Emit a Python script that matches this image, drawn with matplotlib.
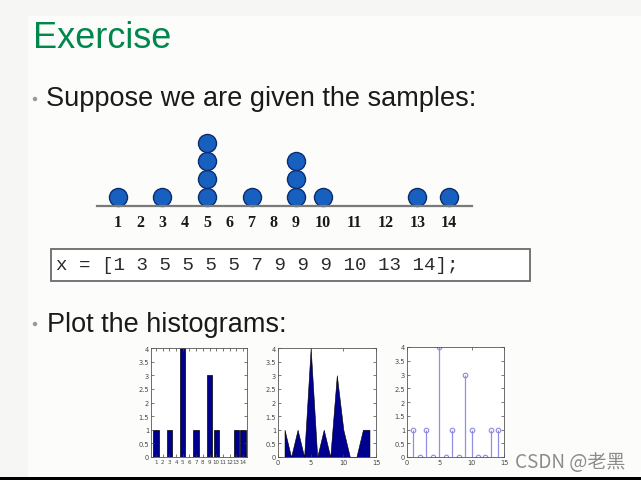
import numpy as np
import matplotlib
matplotlib.use("Agg")
import matplotlib.pyplot as plt
from matplotlib.patches import Rectangle, Ellipse

# samples from the slide
samples = [1, 3, 5, 5, 5, 5, 7, 9, 9, 9, 10, 13, 14]
bins = list(range(1, 15))
counts = [samples.count(b) for b in bins]
ytick_vals = [0, 0.5, 1, 1.5, 2, 2.5, 3, 3.5, 4]
ytick_labels = ['0', '0.5', '1', '1.5', '2', '2.5', '3', '3.5', '4']

W, H = 641, 481
fig = plt.figure(figsize=(W / 100, H / 100), dpi=100)
fig.patch.set_facecolor('#f6f6f4')

def px_axes(left, top, right, bottom):
    ax = fig.add_axes([left / W, 1 - bottom / H, (right - left) / W, (bottom - top) / H])
    ax.set_zorder(3)
    return ax

def fy(y):
    return 1 - y / H

# slide body (slightly lighter than the edges)
fig.patches.append(Rectangle((28 / W, 0), 1, fy(17), transform=fig.transFigure,
                             facecolor='#fcfcfb', edgecolor='none', zorder=-5))
# black strip at the bottom
fig.patches.append(Rectangle((0, 0), 1, 3 / H, transform=fig.transFigure,
                             facecolor='black', edgecolor='none', zorder=5))

# title + bullets
fig.text(33 / W, fy(48), 'Exercise', fontsize=26, color='#00874b',
         family='Liberation Sans', va='baseline')
fig.text(46 / W, fy(106), 'Suppose we are given the samples:', fontsize=19.5,
         color='#1a1a1a', family='Liberation Sans', va='baseline')
fig.text(47 / W, fy(332), 'Plot the histograms:', fontsize=19.5,
         color='#1a1a1a', family='Liberation Sans', va='baseline')
for by in (100, 325):
    fig.patches.append(Ellipse((35 / W, fy(by)), 4.5 / W, 4.5 / H, transform=fig.transFigure,
                               facecolor='#9a9a9a', edgecolor='none'))

# dot plot of the samples (hand drawn axis on the slide: 10..14 spaced wider)
knots_in = [-1, 1, 9, 10, 14, 16]
knots_out = [-1, 1, 9, 10.21, 15.87, 18.7]
def fwd(v):
    return np.interp(v, knots_in, knots_out)
def inv(v):
    return np.interp(v, knots_out, knots_in)

ax0 = px_axes(97, 128, 472, 207)
ax0.set_xscale('function', functions=(fwd, inv))
level = {}
for s in samples:
    level[s] = level.get(s, 0) + 1
    ax0.plot(s, level[s] - 0.5, 'o', markersize=13, markerfacecolor='#1760c0',
             markeredgecolor='#0b2d6e', markeredgewidth=1.0, clip_on=False)
ax0.set_xlim(0.06, 14.73)
ax0.set_ylim(0, 79 / 18)
ax0.set_facecolor('none')
for sp in ('top', 'right', 'left'):
    ax0.spines[sp].set_visible(False)
ax0.spines['bottom'].set_color('#7a7a7a')
ax0.spines['bottom'].set_linewidth(1.6)
ax0.set_yticks([])
ax0.set_xticks(bins)
ax0.set_xticklabels([str(b) for b in bins], fontsize=11.5, family='Liberation Serif',
                    fontweight='bold', color='#1a1a1a')
ax0.minorticks_off()
ax0.tick_params(axis='x', length=0, pad=6)

# code box
fig.patches.append(Rectangle((51 / W, fy(282)), 479 / W, 32 / H, transform=fig.transFigure,
                             facecolor='white', edgecolor='#6a6a6a', linewidth=1.3))
fig.text(56 / W, fy(266), 'x = [' + ' '.join(str(s) for s in samples) + '];',
         fontsize=13.8, family='Liberation Mono', color='#2a2a2a', va='center')

def matlab_style(ax):
    ax.set_facecolor('white')
    for sp in ax.spines.values():
        sp.set_color('#555555')
        sp.set_linewidth(0.6)
    ax.tick_params(direction='in', length=2, width=0.5, labelsize=4.8,
                   colors='#444444', top=True, right=True, pad=1.5)
    ax.set_ylim(0, 4)
    ax.set_yticks(ytick_vals)
    ax.set_yticklabels(ytick_labels)

# histogram 1: bars
ax1 = px_axes(151, 349, 247, 458)
ax1.bar(bins, counts, width=0.8, color='#00008f', edgecolor='black', linewidth=0.5)
matlab_style(ax1)
ax1.set_xlim(0.25, 14.6)
ax1.set_xticks(bins)
ax1.set_xticklabels([str(b) for b in bins], fontsize=4.0)

# histogram 2: area
ax2 = px_axes(278, 349, 376, 458)
ax2.fill_between(bins, counts, 0, color='#00008f', edgecolor='black', linewidth=0.4)
matlab_style(ax2)
ax2.set_xlim(0, 15)
ax2.set_xticks([0, 5, 10, 15])

# histogram 3: stem
ax3 = px_axes(407, 348, 504, 458)
ml, sl, bl = ax3.stem(bins, counts, basefmt=' ')
plt.setp(sl, color='#9090e2', linewidth=0.9)
plt.setp(ml, color='#8a8ae0', markersize=3.3, markerfacecolor='none', markeredgewidth=0.8)
matlab_style(ax3)
ax3.set_xlim(0, 15)
ax3.set_xticks([0, 5, 10, 15])

# watermark
fig.text(515 / W, fy(463), 'CSDN @老黑', fontsize=13.7, color='#8c8c8c',
         family=['Noto Sans CJK SC', 'DejaVu Sans'], va='center')

fig.savefig('out.png', dpi=100, facecolor=fig.get_facecolor())
